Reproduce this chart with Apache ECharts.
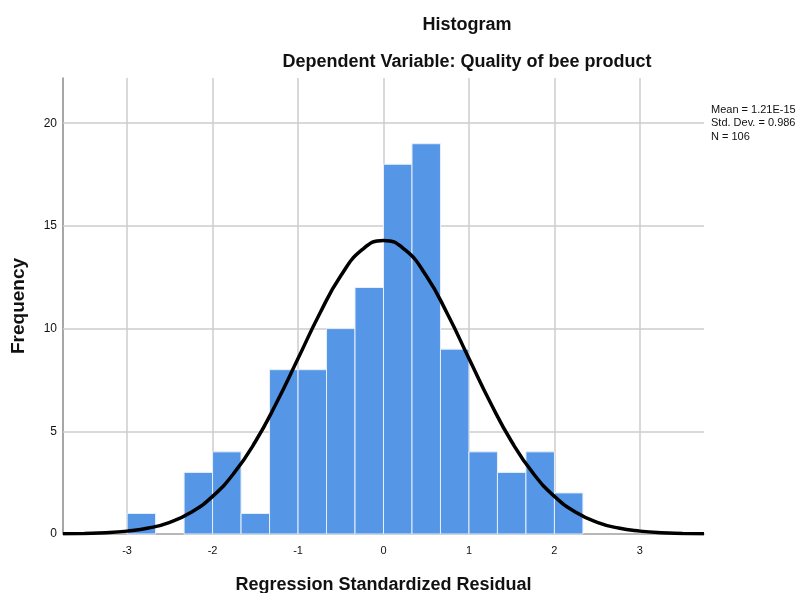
<!DOCTYPE html>
<html>
<head>
<meta charset="utf-8">
<script src="https://cdn.jsdelivr.net/npm/echarts@6/dist/echarts.min.js"></script>
<style>
  html, body { margin: 0; padding: 0; background: #fff; }
  #chart { width: 807px; height: 593px; }
</style>
</head>
<body>
<div id="chart"></div>
<script>
// histogram bins (lower edge, width 1/3) and counts
let binWidth = 1 / 3
let binLow = [-3, -2.6667, -2.3333, -2, -1.6667, -1.3333, -1, -0.6667, -0.3333, 0, 0.3333, 0.6667, 1, 1.3333, 1.6667, 2]
let counts = [1, 0, 3, 4, 1, 8, 8, 10, 12, 18, 19, 9, 4, 3, 4, 2]

// normal curve
let curveX = [-3.75, -3.5, -3.25, -3, -2.75, -2.5, -2.25, -2, -1.75, -1.5, -1.25, -1, -0.75, -0.5, -0.25, 0,
    0.25, 0.5, 0.75, 1, 1.25, 1.5, 1.75, 2, 2.25, 2.5, 2.75, 3, 3.25, 3.5, 3.75]
let curveY = [0.01, 0.03, 0.06, 0.14, 0.29, 0.57, 1.06, 1.83, 2.96, 4.49, 6.40, 8.54, 10.70, 12.57, 13.84, 14.29,
    13.84, 12.57, 10.70, 8.54, 6.40, 4.49, 2.96, 1.83, 1.06, 0.57, 0.29, 0.14, 0.06, 0.03, 0.01]

let xTicks = [-3, -2, -1, 0, 1, 2, 3]
let yTicks = [0, 5, 10, 15, 20]
let stats = ["Mean = 1.21E-15", "Std. Dev. = 0.986", "N = 106"]

let barData = []
for (let i = 0; i < counts.length; i++) {
    if (counts[i] > 0) barData.push([binLow[i], binLow[i] + binWidth, counts[i]])
}

let myChart = echarts.init(document.getElementById("chart"))

let font = "Liberation Sans, Arial, sans-serif"

let option = {
    backgroundColor: "#fff",
    animation: false,
    textStyle: { fontFamily: font },
    graphic: [{
        type: "text",
        x: 467, y: 16,
        style: { text: "Histogram", align: "center", fontSize: 18, fontWeight: "bold", fill: "#111", fontFamily: font }
    }, {
        type: "text",
        x: 467, y: 53,
        style: { text: "Dependent Variable: Quality of bee product", align: "center", fontSize: 18, fontWeight: "bold", fill: "#111", fontFamily: font }
    }, {
        type: "text",
        x: 711, y: 103,
        style: { text: stats.join("\n"), fontSize: 11, lineHeight: 13.5, fill: "#111", fontFamily: font }
    }],
    grid: { left: 63, top: 78, width: 641, height: 456, outerBoundsMode: "none", containLabel: false },
    xAxis: {
        type: "value",
        min: -3.75, max: 3.75,
        name: "Regression Standardized Residual",
        nameLocation: "middle",
        nameGap: 42,
        nameTextStyle: { fontSize: 18, fontWeight: "bold", color: "#111" },
        axisLine: { show: true, onZero: false, lineStyle: { color: "#a0a0a0", width: 1.5 } },
        axisTick: { show: false },
        axisLabel: { customValues: xTicks, color: "#111", fontSize: 11, margin: 11 },
        splitLine: { show: false }
    },
    yAxis: {
        type: "value",
        min: 0, max: 22.2,
        name: "Frequency",
        nameLocation: "middle",
        nameGap: 35,
        nameTextStyle: { fontSize: 19, fontWeight: "bold", color: "#111" },
        axisLine: { show: true, onZero: false, lineStyle: { color: "#888", width: 1.5 } },
        axisTick: { show: false },
        axisLabel: { customValues: yTicks, color: "#111", fontSize: 12, margin: 6 },
        splitLine: { show: false }
    },
    series: [{
        // grid lines
        type: "line",
        data: [],
        silent: true,
        z: 1,
        markLine: {
            z: 1,
            silent: true,
            symbol: "none",
            label: { show: false },
            lineStyle: { color: "#cccccc", width: 1.5, type: "solid" },
            data: xTicks.map(v => ({ xAxis: v })).concat(yTicks.filter(v => v > 0).map(v => ({ yAxis: v })))
        }
    }, {
        type: "custom",
        z: 2,
        renderItem: function (params, api) {
            let p0 = api.coord([api.value(0), api.value(2)])
            let p1 = api.coord([api.value(1), 0])
            return {
                type: "rect",
                shape: { x: p0[0], y: p0[1], width: p1[0] - p0[0], height: p1[1] - p0[1] },
                style: { fill: "#5596e6", stroke: "#e6effb", lineWidth: 1 }
            }
        },
        encode: { x: [0, 1], y: 2 },
        data: barData
    }, {
        type: "line",
        z: 3,
        smooth: true,
        symbol: "none",
        lineStyle: { color: "#000", width: 3.5 },
        data: curveX.map((x, i) => [x, curveY[i]])
    }]
}

myChart.setOption(option)
</script>
</body>
</html>
